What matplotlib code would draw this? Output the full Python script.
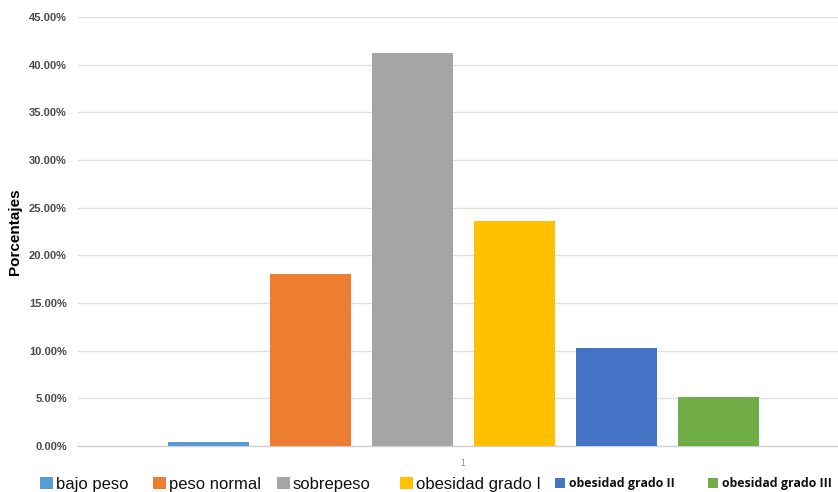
import matplotlib
matplotlib.use("Agg")
import matplotlib.pyplot as plt
from matplotlib.patches import Patch
from matplotlib.ticker import FuncFormatter, MultipleLocator
import numpy as np

categorias = ["bajo peso", "peso normal", "sobrepeso", "obesidad grado I",
              "obesidad grado II", "obesidad grado III"]
valores = [0.45, 18.0, 41.2, 23.65, 10.25, 5.17]
colores = ["#5B9BD5", "#ED7D31", "#A5A5A5", "#FFC000", "#4472C4", "#70AD47"]
etiqueta_x = ["1"]

W, H = 838, 492
fig = plt.figure(figsize=(W/100, H/100), dpi=100)
ax = fig.add_axes([78/W, (H-446)/H, 760/W, (446-17)/H])

paso = 102/760
ancho = 81/760
centro = 0.5066
x = centro + (np.arange(len(valores)) - (len(valores)-1)/2) * paso
ax.bar(x, valores, width=ancho, color=colores, zorder=3)

ax.set_xlim(0, 1)
ax.set_ylim(0, 45)
ax.yaxis.set_major_locator(MultipleLocator(5))
ax.yaxis.set_major_formatter(FuncFormatter(lambda v, p: f"{v:.2f}%"))
ax.grid(axis="y", color="#E0E0E0", linewidth=1.0, zorder=0)
ax.set_axisbelow(True)
for s in ["top", "right", "left"]:
    ax.spines[s].set_visible(False)
ax.spines["bottom"].set_color("#D0D0D0")
ax.spines["bottom"].set_linewidth(1.0)
ax.tick_params(axis="y", length=0, pad=8, labelsize=8, labelcolor="#4A4A4A")
for t in ax.get_yticklabels():
    t.set_fontfamily("Liberation Sans")
    t.set_fontweight("bold")
ax.set_xticks([centro])
ax.set_xticklabels(etiqueta_x)
ax.tick_params(axis="x", length=0, pad=9, labelsize=5.5, labelcolor="#808080")

ax.set_ylabel("Porcentajes", fontsize=11, fontweight="bold",
              family="Liberation Sans", color="black", labelpad=5)

# legend entries placed individually (layout positions in pixels)
leg_x = [40, 153, 277, 400, 555, 708]
leg_y = 484
for i, (cat, col) in enumerate(zip(categorias, colores)):
    grande = i < 4
    prop = ({"family": "Liberation Sans", "size": 12} if grande else
            {"family": "Open Sans", "weight": "bold", "size": 8.9})
    leg = fig.legend([Patch(facecolor=col, edgecolor="none")], [cat],
                     loc="center left",
                     bbox_to_anchor=(leg_x[i]/W, (H-leg_y)/H),
                     frameon=False, borderpad=0, borderaxespad=0,
                     handlelength=0.75 if grande else 0.8,
                     handleheight=0.7 if grande else 0.8,
                     handletextpad=0.2 if grande else 0.3,
                     prop=prop)
    leg.get_texts()[0].set_color("#111111")

fig.savefig("out.png", dpi=100)
